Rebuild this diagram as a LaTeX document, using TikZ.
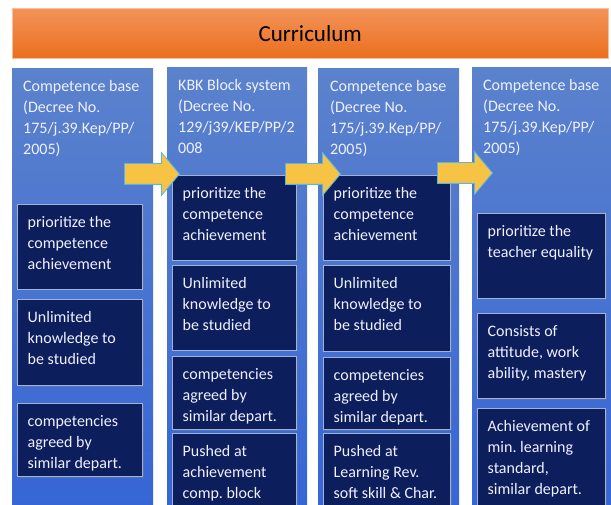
\documentclass[tikz,border=0pt]{standalone}
\usepackage{fontspec}
\setmainfont{Carlito}
\usetikzlibrary{positioning, shapes.arrows, shadows}
\definecolor{bannertop}{HTML}{F3935A}
\definecolor{bannerbot}{HTML}{EB6F1D}
\definecolor{eratop}{HTML}{5B82CC}
\definecolor{erabot}{HTML}{3565D6}
\definecolor{navy}{HTML}{0C1E5C}
\definecolor{navyedge}{HTML}{A3B2D2}
\definecolor{flowfill}{HTML}{F6C344}
\definecolor{flowedge}{HTML}{55B6E8}

\begin{document}
\begin{tikzpicture}[x=1pt, y=-1pt,
    banner/.style={rectangle, draw=bannertop!60!white, top color=bannertop, bottom color=bannerbot,
                   anchor=north west, minimum width=596pt, minimum height=50pt,
                   inner sep=0pt, font=\fontsize{23}{27}\selectfont},
    era/.style={rectangle, top color=eratop, bottom color=erabot, anchor=north west,
                minimum height=450pt, inner sep=0pt},
    point/.style={rectangle, draw=navyedge, line width=1pt, fill=navy, anchor=north west,
                  inner sep=0pt, drop shadow={opacity=0.35, shadow xshift=1pt, shadow yshift=-1pt}},
    words/.style={anchor=north west, inner sep=0pt, align=left, text=white!94!blue,
                  xshift=10.5pt, yshift=-12pt, font=\fontsize{16}{21}\selectfont\frenchspacing},
    flow/.style={single arrow, draw=flowedge, fill=flowfill, line width=0.8pt, anchor=tip,
                 minimum height=55pt, single arrow head extend=11pt,
                 single arrow tip angle=100, inner xsep=0pt, inner ysep=10pt}
  ]
    \clip (0,0) rectangle (611,505);
    \fill[white] (0,0) rectangle (611,505);

    \node[banner] (top) at (12,8) {Curriculum};

    % the four curriculum columns
    \node[era, minimum width=141pt] (c1) at (12,68) {};
    \node[era, minimum width=140pt] (c2) at (167,67) {};
    \node[era, minimum width=141pt] (c3) at (318,68) {};
    \node[era, minimum width=150pt] (c4) at (472,67) {};

    \node[words, xshift=0.5pt] (c1h) at (c1.north west) {Competence base\\(Decree No.\\175/j.39.Kep/PP/\\2005)};
    \node[words, xshift=0.5pt] (c2h) at (c2.north west) {KBK Block system\\(Decree No.\\129/j39/KEP/PP/2\\008};
    \node[words, xshift=1.5pt] (c3h) at (c3.north west) {Competence base\\(Decree No.\\175/j.39.Kep/PP/\\2005)};
    \node[words, xshift=0.5pt] (c4h) at (c4.north west) {Competence base\\(Decree No.\\175/j.39.Kep/PP/\\2005)};

    % column 1
    \node[point, minimum width=125pt, minimum height=85pt] (c1a) at (17,204) {};
    \node[point, minimum width=125pt, minimum height=86pt] (c1b) at (17,299) {};
    \node[point, minimum width=125pt, minimum height=73pt] (c1c) at (17,403) {};
    \node[words] (c1at) at (c1a.north west) {prioritize the\\competence\\achievement};
    \node[words] (c1bt) at (c1b.north west) {Unlimited\\knowledge to\\be studied};
    \node[words] (c1ct) at (c1c.north west) {competencies\\agreed by\\similar depart.};

    % column 2
    \node[point, minimum width=124pt, minimum height=85pt] (c2a) at (172,175) {};
    \node[point, minimum width=124pt, minimum height=85pt] (c2b) at (172,265) {};
    \node[point, minimum width=124pt, minimum height=73pt] (c2c) at (172,356) {};
    \node[point, minimum width=124pt, minimum height=80pt] (c2d) at (172,433) {};
    \node[words] (c2at) at (c2a.north west) {prioritize the\\competence\\achievement};
    \node[words] (c2bt) at (c2b.north west) {Unlimited\\knowledge to\\be studied};
    \node[words] (c2ct) at (c2c.north west) {competencies\\agreed by\\similar depart.};
    \node[words] (c2dt) at (c2d.north west) {Pushed at\\achievement\\comp. block};

    % column 3
    \node[point, minimum width=127pt, minimum height=85pt] (c3a) at (323,175) {};
    \node[point, minimum width=127pt, minimum height=86pt] (c3b) at (323,265) {};
    \node[point, minimum width=127pt, minimum height=72pt] (c3c) at (323,357) {};
    \node[point, minimum width=127pt, minimum height=80pt] (c3d) at (323,433) {};
    \node[words] (c3at) at (c3a.north west) {prioritize the\\competence\\achievement};
    \node[words] (c3bt) at (c3b.north west) {Unlimited\\knowledge to\\be studied};
    \node[words] (c3ct) at (c3c.north west) {competencies\\agreed by\\similar depart.};
    \node[words] (c3dt) at (c3d.north west) {Pushed at\\Learning Rev.\\soft skill \& Char.};

    % column 4
    \node[point, minimum width=128pt, minimum height=85pt] (c4a) at (477,213) {};
    \node[point, minimum width=128pt, minimum height=85pt] (c4b) at (477,313) {};
    \node[point, minimum width=128pt, minimum height=100pt] (c4c) at (477,408) {};
    \node[words] (c4at) at (c4a.north west) {prioritize the\\teacher equality};
    \node[words] (c4bt) at (c4b.north west) {Consists of\\attitude, work\\ability, mastery};
    \node[words] (c4ct) at (c4c.north west) {Achievement of\\min. learning\\standard,\\similar depart.};

    % yellow arrows between the columns
    \node[flow] (f1) at (180,174) {};
    \node[flow] (f2) at (341,174) {};
    \node[flow] (f3) at (493,173) {};
  \end{tikzpicture}
\end{document}
